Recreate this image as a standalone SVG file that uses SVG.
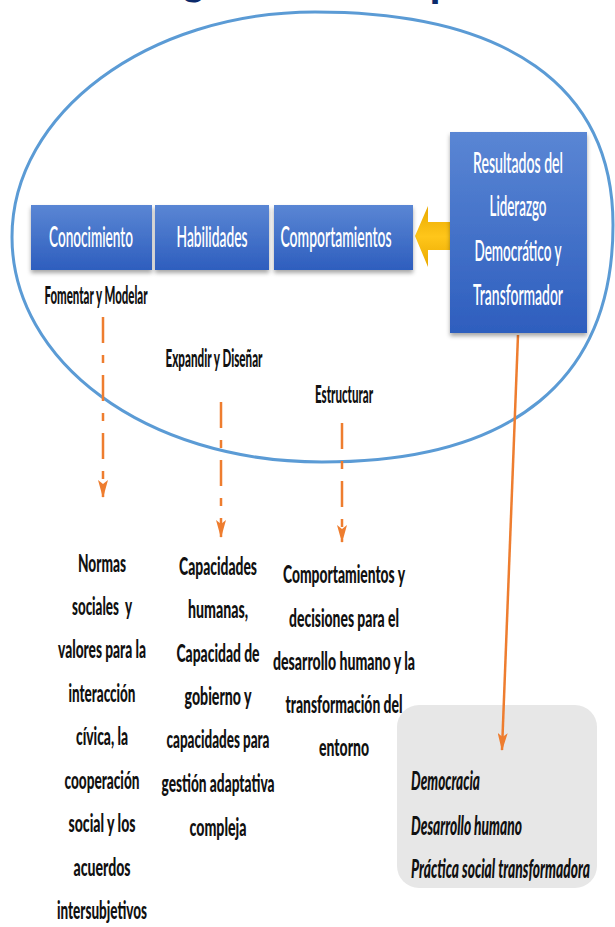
<svg xmlns="http://www.w3.org/2000/svg" width="615" height="927" viewBox="0 0 615 927">
<defs>
  <linearGradient id="blueGrad" x1="0" y1="0" x2="0" y2="1">
    <stop offset="0" stop-color="#5a86d4"/>
    <stop offset="1" stop-color="#2e5ebe"/>
  </linearGradient>
  <linearGradient id="yellowGrad" x1="0" y1="0" x2="0" y2="1">
    <stop offset="0" stop-color="#e9a900"/>
    <stop offset="0.5" stop-color="#ffc61a"/>
    <stop offset="1" stop-color="#e9a900"/>
  </linearGradient>
  <filter id="shadow" x="-10%" y="-10%" width="120%" height="130%">
    <feDropShadow dx="0" dy="3" stdDeviation="2" flood-color="#000" flood-opacity="0.35"/>
  </filter>
  <marker id="orangeHead" viewBox="0 0 18 10" refX="17" refY="5" markerWidth="18" markerHeight="10" markerUnits="userSpaceOnUse" orient="auto">
    <path d="M0,0 L18,5 L0,10 L4,5 Z" fill="#ee7d2f"/>
  </marker>
</defs>
<style>
  .box { fill: url(#blueGrad); filter: url(#shadow); }
  .wt { font-family: Lato, "Open Sans", "Liberation Sans", sans-serif; font-size: 29px; font-weight: 600; fill: #ffffff; text-anchor: middle; }
  .bt { font-family: Lato, "Open Sans", "Liberation Sans", sans-serif; font-size: 24px; font-weight: 900; fill: #111111; text-anchor: middle; }
  .it { font-family: Lato, "Open Sans", "Liberation Sans", sans-serif; font-size: 27px; font-weight: 900; font-style: italic; fill: #111111; }
  .dash { stroke: #ee7d2f; stroke-width: 2.5; fill: none; stroke-dasharray: 26 12 8 12; }
  .solid { stroke: #ee7d2f; stroke-width: 2.5; fill: none; }
  .title { font-family: Lato, "Liberation Sans", sans-serif; font-size: 40px; font-weight: 900; fill: #0b2a6b; }
</style>

<g id="title-fragment">
  <text class="title" x="183" y="-5">g</text>
  <text class="title" x="430" y="-3">p</text>
</g>

<g id="ellipse">
  <path d="M315,12 C505,12 613,85 613,225 C613,379 514,462 322,462 C145,462 12,361 12,237 C12,113 148,12 315,12 Z" fill="none" stroke="#5b9bd5" stroke-width="3"/>
</g>

<g id="outcomes">
  <rect x="397" y="705" width="200" height="183" rx="22" ry="22" fill="#e7e7e7"/>
  <text class="it" x="411" y="790" textLength="69" lengthAdjust="spacingAndGlyphs">Democracia</text>
  <text class="it" x="411" y="835" textLength="111" lengthAdjust="spacingAndGlyphs">Desarrollo humano</text>
  <text class="it" x="411" y="878" textLength="179" lengthAdjust="spacingAndGlyphs">Práctica social transformadora</text>
</g>

<g id="connectors">
  <path d="M450,222 L428,222 L428,206 L415,236 L428,267 L428,250 L450,250 Z" fill="url(#yellowGrad)"/>
  <line class="dash" x1="103" y1="317" x2="103" y2="497" marker-end="url(#orangeHead)"/>
  <line class="dash" x1="221" y1="402" x2="221" y2="537" marker-end="url(#orangeHead)"/>
  <line class="dash" x1="342" y1="423" x2="342" y2="542" marker-end="url(#orangeHead)"/>
  <line class="solid" x1="518" y1="335" x2="502" y2="750" marker-end="url(#orangeHead)"/>
</g>

<g id="box-conocimiento">
  <rect class="box" x="31" y="205" width="121" height="65"/>
  <text class="wt" x="91" y="247" textLength="84" lengthAdjust="spacingAndGlyphs">Conocimiento</text>
</g>
<g id="box-habilidades">
  <rect class="box" x="155" y="205" width="114" height="65"/>
  <text class="wt" x="212" y="247" textLength="71" lengthAdjust="spacingAndGlyphs">Habilidades</text>
</g>
<g id="box-comportamientos">
  <rect class="box" x="274" y="205" width="139" height="65"/>
  <text class="wt" x="336" y="247" textLength="111" lengthAdjust="spacingAndGlyphs">Comportamientos</text>
</g>
<g id="box-resultados">
  <rect class="box" x="450" y="132" width="137" height="201"/>
  <text class="wt" x="518" y="173" textLength="90" lengthAdjust="spacingAndGlyphs">Resultados del</text>
  <text class="wt" x="518" y="216" textLength="57" lengthAdjust="spacingAndGlyphs">Liderazgo</text>
  <text class="wt" x="518" y="261" textLength="87" lengthAdjust="spacingAndGlyphs">Democrático y</text>
  <text class="wt" x="518" y="305" textLength="90" lengthAdjust="spacingAndGlyphs">Transformador</text>
</g>

<g id="label-fomentar">
  <text class="bt" x="96" y="304" textLength="103" lengthAdjust="spacingAndGlyphs">Fomentar y Modelar</text>
</g>
<g id="label-expandir">
  <text class="bt" x="214" y="367" textLength="97" lengthAdjust="spacingAndGlyphs">Expandir y Diseñar</text>
</g>
<g id="label-estructurar">
  <text class="bt" x="344" y="403" textLength="58" lengthAdjust="spacingAndGlyphs">Estructurar</text>
</g>

<g id="col-normas">
  <text class="bt" x="102" y="572" textLength="48" lengthAdjust="spacingAndGlyphs">Normas</text>
  <text class="bt" x="102" y="615" textLength="60" lengthAdjust="spacingAndGlyphs" xml:space="preserve">sociales  y</text>
  <text class="bt" x="102" y="658" textLength="88" lengthAdjust="spacingAndGlyphs">valores para la</text>
  <text class="bt" x="102" y="702" textLength="67" lengthAdjust="spacingAndGlyphs">interacción</text>
  <text class="bt" x="102" y="745" textLength="52" lengthAdjust="spacingAndGlyphs">cívica, la</text>
  <text class="bt" x="102" y="789" textLength="75" lengthAdjust="spacingAndGlyphs">cooperación</text>
  <text class="bt" x="102" y="832" textLength="67" lengthAdjust="spacingAndGlyphs">social y los</text>
  <text class="bt" x="102" y="876" textLength="57" lengthAdjust="spacingAndGlyphs">acuerdos</text>
  <text class="bt" x="102" y="919" textLength="90" lengthAdjust="spacingAndGlyphs">intersubjetivos</text>
</g>

<g id="col-capacidades">
  <text class="bt" x="218" y="575" textLength="78" lengthAdjust="spacingAndGlyphs">Capacidades</text>
  <text class="bt" x="218" y="618" textLength="60" lengthAdjust="spacingAndGlyphs">humanas,</text>
  <text class="bt" x="218" y="662" textLength="83" lengthAdjust="spacingAndGlyphs">Capacidad de</text>
  <text class="bt" x="218" y="705" textLength="67" lengthAdjust="spacingAndGlyphs">gobierno y</text>
  <text class="bt" x="218" y="748" textLength="103" lengthAdjust="spacingAndGlyphs">capacidades para</text>
  <text class="bt" x="218" y="792" textLength="113" lengthAdjust="spacingAndGlyphs">gestión adaptativa</text>
  <text class="bt" x="218" y="836" textLength="57" lengthAdjust="spacingAndGlyphs">compleja</text>
</g>

<g id="col-comportamientos">
  <text class="bt" x="344" y="583" textLength="122" lengthAdjust="spacingAndGlyphs">Comportamientos y</text>
  <text class="bt" x="344" y="627" textLength="110" lengthAdjust="spacingAndGlyphs">decisiones para el</text>
  <text class="bt" x="344" y="670" textLength="142" lengthAdjust="spacingAndGlyphs">desarrollo humano y la</text>
  <text class="bt" x="344" y="713" textLength="117" lengthAdjust="spacingAndGlyphs">transformación del</text>
  <text class="bt" x="344" y="756" textLength="50" lengthAdjust="spacingAndGlyphs">entorno</text>
</g>
</svg>
